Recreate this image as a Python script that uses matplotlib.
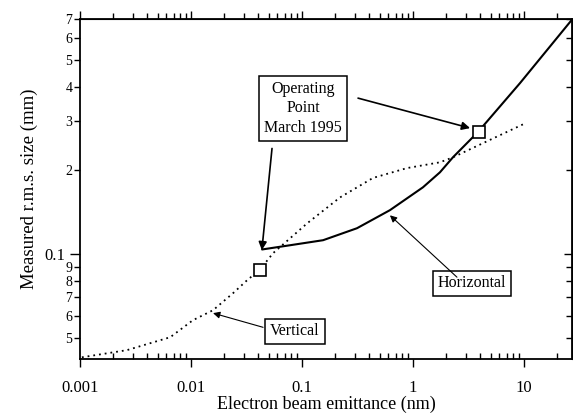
import matplotlib
matplotlib.use("Agg")
import matplotlib.pyplot as plt
from matplotlib.ticker import FixedLocator, FixedFormatter, NullFormatter, LogLocator

# --- data ---
horiz_x = [0.0437, 0.078, 0.155, 0.313, 0.62, 1.23, 1.75, 2.29, 3.85, 9.2, 26.5]
horiz_y = [0.104, 0.1077, 0.1123, 0.124, 0.144, 0.174, 0.197, 0.223, 0.275, 0.412, 0.69]

vert_x = [0.00104, 0.00265, 0.0065, 0.0104, 0.0158, 0.0239, 0.032, 0.0418, 0.0548,
          0.111, 0.22, 0.436, 0.883, 1.75, 2.29, 9.8]
vert_y = [0.0426, 0.0452, 0.0503, 0.0579, 0.0629, 0.0724, 0.0806, 0.088, 0.1008,
          0.129, 0.160, 0.188, 0.204, 0.214, 0.223, 0.293]

op_x = [0.0418, 3.9]
op_y = [0.088, 0.275]

x_ticks = [0.001, 0.01, 0.1, 1, 10]
x_ticklabels = ["0.001", "0.01", "0.1", "1", "10"]
y_major = [0.1]
y_major_labels = ["0.1"]
y_minor = [0.05, 0.06, 0.07, 0.08, 0.09, 0.2, 0.3, 0.4, 0.5, 0.6, 0.7]
y_minor_labels = ["5", "6", "7", "8", "9", "2", "3", "4", "5", "6", "7"]

plt.rcParams['font.family'] = ['Liberation Serif', 'DejaVu Serif']

fig = plt.figure(figsize=(5.73, 4.16), dpi=100)
ax = fig.add_axes([0.1396, 0.137, 0.8584, 0.817])
ax.set_xscale('log')
ax.set_yscale('log')
ax.set_xlim(0.001, 27)
ax.set_ylim(0.042, 0.7)

ax.plot(horiz_x, horiz_y, color='black', lw=1.5, solid_capstyle='round')
ax.plot(vert_x, vert_y, color='black', lw=1.3, linestyle=(0, (1, 2.2)))
ax.plot(op_x, op_y, linestyle='none', marker='s', markersize=8,
        markerfacecolor='white', markeredgecolor='black', markeredgewidth=1.2, zorder=5)

# x ticks (bottom)
ax.xaxis.set_major_locator(FixedLocator(x_ticks))
ax.xaxis.set_major_formatter(FixedFormatter(x_ticklabels))
ax.xaxis.set_minor_locator(LogLocator(base=10, subs=range(2, 10)))
ax.xaxis.set_minor_formatter(NullFormatter())
ax.tick_params(axis='x', which='major', direction='out', length=6, width=1,
               labelsize=12, pad=9, top=False)
ax.tick_params(axis='x', which='minor', direction='in', length=4, width=1, top=False)

# y ticks (left)
ax.yaxis.set_major_locator(FixedLocator(y_major))
ax.yaxis.set_major_formatter(FixedFormatter(y_major_labels))
ax.yaxis.set_minor_locator(FixedLocator(y_minor))
ax.yaxis.set_minor_formatter(FixedFormatter(y_minor_labels))
ax.tick_params(axis='y', which='major', direction='out', length=7, width=1,
               labelsize=12, right=False)
ax.tick_params(axis='y', which='minor', direction='out', length=4, width=1,
               labelsize=10, pad=1.5, right=False)

# top axis: outward ticks, no labels
top = ax.secondary_xaxis('top')
top.xaxis.set_major_locator(FixedLocator(x_ticks))
top.xaxis.set_minor_locator(LogLocator(base=10, subs=range(2, 10)))
top.xaxis.set_major_formatter(NullFormatter())
top.xaxis.set_minor_formatter(NullFormatter())
top.tick_params(which='major', direction='out', length=6, width=1)
top.tick_params(which='minor', direction='out', length=4, width=1)

# right axis: inward ticks, no labels
right = ax.secondary_yaxis('right')
right.yaxis.set_major_locator(FixedLocator(y_major))
right.yaxis.set_minor_locator(FixedLocator(y_minor))
right.yaxis.set_major_formatter(NullFormatter())
right.yaxis.set_minor_formatter(NullFormatter())
right.tick_params(which='major', direction='in', length=6, width=1)
right.tick_params(which='minor', direction='in', length=4, width=1)

for s in ax.spines.values():
    s.set_linewidth(1.3)

ax.set_xlabel("Electron beam emittance (nm)", fontsize=13, labelpad=0)
ax.set_ylabel("Measured r.m.s. size (mm)", fontsize=13.5, labelpad=5)

box = dict(boxstyle='square,pad=0.3', fc='white', ec='black', lw=1.1)
arrow = dict(arrowstyle='-|>', color='black', lw=1.2, mutation_scale=12, shrinkA=0, shrinkB=0)
thin_arrow = dict(arrowstyle='-|>', color='black', lw=0.8, mutation_scale=10,
                  shrinkA=0, shrinkB=0)

ax.text(0.102, 0.335, "Operating\nPoint\nMarch 1995", ha='center', va='center',
        fontsize=11.5, bbox=box, linespacing=1.3)
ax.annotate("", xy=(3.27, 0.284), xytext=(0.32, 0.364), arrowprops=arrow)
ax.annotate("", xy=(0.0435, 0.1034), xytext=(0.0537, 0.240), arrowprops=arrow)

ax.text(3.4, 0.0786, "Horizontal", ha='center', va='center', fontsize=11.5, bbox=box)
ax.annotate("", xy=(0.62, 0.138), xytext=(2.49, 0.0827), arrowprops=thin_arrow)

ax.text(0.0865, 0.0528, "Vertical", ha='center', va='center', fontsize=11.5, bbox=box)
ax.annotate("", xy=(0.0158, 0.0614), xytext=(0.0446, 0.0546), arrowprops=thin_arrow)

fig.savefig("out.png", dpi=100)
